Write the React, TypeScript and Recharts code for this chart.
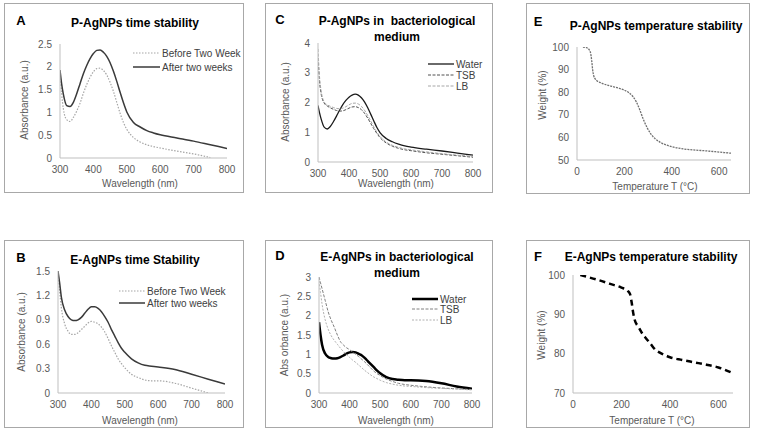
import React from 'react';
import { LineChart, Line, XAxis, YAxis } from 'recharts';

const FONT = '"Liberation Sans", Arial, sans-serif';

// wavelength grid shared by the absorbance panels (nm)
const wavelengths = [300, 305, 310, 320, 330, 340, 350, 360, 370, 380, 390, 400, 410, 420, 430, 440, 450, 460, 470, 480, 490, 500, 520, 540, 560, 580, 600, 650, 700, 750, 800];
const wlTicks = [300, 400, 500, 600, 700, 800];

// A - P-AgNPs time stability
const aBefore = [1.88, 1.4, 1.08, 0.84, 0.8, 0.89, 1.03, 1.2, 1.42, 1.61, 1.77, 1.89, 1.96, 1.97, 1.92, 1.82, 1.66, 1.46, 1.22, 0.98, 0.78, 0.63, 0.45, 0.35, 0.29, 0.25, 0.22, 0.15, 0.09, 0.01, null];
const aAfter = [1.93, 1.62, 1.4, 1.15, 1.13, 1.22, 1.41, 1.63, 1.85, 2.03, 2.18, 2.29, 2.36, 2.37, 2.32, 2.23, 2.09, 1.9, 1.68, 1.44, 1.21, 1.01, 0.78, 0.68, 0.6, 0.55, 0.51, 0.44, 0.37, 0.29, 0.21];
const aTicks = [0, 0.5, 1, 1.5, 2, 2.5];

// B - E-AgNPs time stability
const bBefore = [1.5, 1.25, 1.05, 0.85, 0.76, 0.72, 0.72, 0.74, 0.78, 0.82, 0.86, 0.88, 0.87, 0.85, 0.81, 0.75, 0.67, 0.58, 0.5, 0.42, 0.36, 0.31, 0.23, 0.19, 0.16, 0.15, 0.15, 0.12, 0.06, 0, null];
const bAfter = [1.5, 1.35, 1.18, 1.02, 0.94, 0.9, 0.89, 0.9, 0.93, 0.98, 1.03, 1.06, 1.06, 1.04, 1.0, 0.94, 0.87, 0.78, 0.7, 0.62, 0.55, 0.5, 0.42, 0.37, 0.34, 0.33, 0.32, 0.29, 0.23, 0.17, 0.11];
const bTicks = [0, 0.3, 0.6, 0.9, 1.2, 1.5];

// C - P-AgNPs in bacteriological medium
const cWater = [1.9, 1.65, 1.45, 1.17, 1.11, 1.2, 1.36, 1.55, 1.75, 1.93, 2.07, 2.18, 2.25, 2.28, 2.25, 2.16, 2.02, 1.83, 1.61, 1.38, 1.16, 0.99, 0.79, 0.68, 0.6, 0.54, 0.5, 0.43, 0.37, 0.3, 0.23];
const cTSB = [3.5, 2.7, 2.3, 1.98, 1.88, 1.82, 1.77, 1.73, 1.71, 1.72, 1.76, 1.81, 1.85, 1.86, 1.83, 1.76, 1.64, 1.48, 1.3, 1.12, 0.96, 0.82, 0.64, 0.53, 0.46, 0.41, 0.38, 0.31, 0.26, 0.21, 0.16];
const cLB = [3.8, 2.85, 2.4, 2.02, 1.92, 1.87, 1.83, 1.8, 1.79, 1.81, 1.86, 1.92, 1.97, 1.98, 1.95, 1.87, 1.74, 1.57, 1.38, 1.18, 1.0, 0.86, 0.67, 0.56, 0.49, 0.44, 0.41, 0.34, 0.28, 0.23, 0.19];
const cTicks = [0, 1, 2, 3, 4];

// D - E-AgNPs in bacteriological medium
const dWater = [1.83, 1.5, 1.25, 1.02, 0.93, 0.9, 0.89, 0.9, 0.93, 0.97, 1.02, 1.05, 1.06, 1.05, 1.01, 0.97, 0.9, 0.82, 0.74, 0.66, 0.58, 0.51, 0.41, 0.36, 0.34, 0.33, 0.33, 0.31, 0.25, 0.17, 0.11];
const dTSB = [3.0, 2.85, 2.7, 2.4, 2.1, 1.88, 1.7, 1.5, 1.33, 1.24, 1.17, 1.12, 1.06, 1.0, 0.94, 0.87, 0.8, 0.72, 0.64, 0.56, 0.5, 0.45, 0.36, 0.3, 0.25, 0.22, 0.2, 0.16, 0.13, 0.11, 0.09];
const dLB = [2.9, 2.6, 2.3, 1.9, 1.65, 1.48, 1.36, 1.26, 1.16, 1.07, 0.99, 0.92, 0.85, 0.79, 0.72, 0.65, 0.58, 0.52, 0.46, 0.41, 0.37, 0.33, 0.27, 0.23, 0.2, 0.18, 0.17, 0.14, 0.12, 0.1, 0.08];
const dTicks = [0, 0.5, 1, 1.5, 2, 2.5, 3];

// E - P-AgNPs temperature stability (TGA)
const eTemp = [25, 40, 50, 57, 62, 66, 70, 76, 85, 100, 125, 150, 175, 200, 220, 235, 250, 265, 280, 295, 310, 330, 350, 375, 400, 450, 500, 550, 600, 650];
const eWeight = [100, 99.7, 99, 97.5, 94, 90, 87.5, 86, 85, 84.2, 83.2, 82.5, 81.8, 80.9, 79.7, 78.2, 75.8, 72.2, 68, 64.5, 61.8, 59.4, 57.9, 56.7, 55.9, 54.9, 54.4, 54, 53.5, 53];
const eTicks = [50, 60, 70, 80, 90, 100];

// F - E-AgNPs temperature stability (TGA)
const fTemp = [30, 60, 100, 150, 200, 225, 235, 242, 248, 255, 270, 285, 300, 320, 340, 360, 380, 400, 450, 500, 550, 600, 650];
const fWeight = [100, 99.5, 98.8, 97.8, 96.8, 96, 95.2, 93, 90.5, 88.5, 86.8, 85.2, 84, 82.5, 81, 80.2, 79.6, 79.1, 78.4, 77.8, 77.2, 76.5, 75.3];
const fTicks = [70, 80, 90, 100];
const tempTicks = [0, 200, 400, 600];

const zip = (xs: number[], ys: (number | null)[]) => xs.map((x, i) => ({ x, y: ys[i] }));

type Series = { name: string; xs: number[]; ys: (number | null)[]; stroke: string; width: number; dash?: string };

function Legend({ x, ys, items, len }: { x: number; ys: number[]; items: Series[]; len: number }) {
  return (
    <>
      {items.map((s, i) => (
        <div key={s.name} style={{ position: 'absolute', left: x, top: ys[i] - 7, height: 14, display: 'flex', alignItems: 'center' }}>
          <svg width={len} height={6} style={{ marginRight: 2 }}>
            <line x1={0} y1={3} x2={len} y2={3} stroke={s.stroke} strokeWidth={s.width} strokeDasharray={s.dash} />
          </svg>
          <span style={{ fontFamily: FONT, fontSize: 10, color: '#404040', whiteSpace: 'nowrap' }}>{s.name}</span>
        </div>
      ))}
    </>
  );
}

function Panel(p: any) {
  const { box, plot } = p;
  const tick = { fontSize: 10, fill: '#595959', fontFamily: FONT };
  return (
    <div style={{ position: 'absolute', left: box.x, top: box.y, width: box.w, height: box.h, boxSizing: 'border-box', border: '1px solid #a8a8a8' }}>
      <div style={{ position: 'absolute', left: -1, top: -1 }}>
        <LineChart
          width={box.w}
          height={box.h}
          margin={{ top: plot.t - box.y, right: box.x + box.w - plot.r, left: 0, bottom: 0 }}
        >
          <XAxis type="number" dataKey="x" domain={p.xDomain} ticks={p.xTicks} interval={0} allowDataOverflow
            tickLine={false} axisLine={{ stroke: '#bfbfbf' }} height={box.y + box.h - plot.b} tick={tick} />
          <YAxis type="number" domain={p.yDomain} ticks={p.yTicks} interval={0} allowDataOverflow
            tickLine={false} axisLine={{ stroke: '#bfbfbf' }} width={plot.l - box.x} tick={tick} />
          {p.series.map((s: Series) => (
            <Line key={s.name} data={zip(s.xs, s.ys)} dataKey="y" name={s.name} type="monotone" dot={false}
              stroke={s.stroke} strokeWidth={s.width} strokeDasharray={s.dash} isAnimationActive={false} />
          ))}
        </LineChart>
      </div>
      <div style={{ position: 'absolute', left: p.letter.x - box.x - 11, top: p.letter.y - box.y - 9, width: 20, textAlign: 'center', fontFamily: FONT, fontWeight: 'bold', fontSize: 13, lineHeight: '16px' }}>{p.letter.text}</div>
      {p.title.map((t: any) => (
        <div key={t.text} style={{ position: 'absolute', left: t.cx - box.x - 151, top: t.cy - box.y - 9, width: 300, textAlign: 'center', fontFamily: FONT, fontWeight: 'bold', fontSize: 12, lineHeight: '16px', whiteSpace: 'pre' }}>{t.text}</div>
      ))}
      <div style={{ position: 'absolute', left: p.xTitle.cx - box.x - 101, top: p.xTitle.cy - box.y - 8, width: 200, textAlign: 'center', fontFamily: FONT, fontSize: 10, color: '#595959', lineHeight: '14px' }}>{p.xTitle.text}</div>
      <div style={{ position: 'absolute', left: p.yTitle.cx - box.x - 101, top: p.yTitle.cy - box.y - 8, width: 200, textAlign: 'center', fontFamily: FONT, fontSize: 10, color: '#595959', lineHeight: '14px', transform: 'rotate(-90deg)' }}>{p.yTitle.text}</div>
      {p.legend && <Legend x={p.legend.x - box.x - 1} ys={p.legend.ys.map((y: number) => y - box.y - 1)} items={p.series} len={p.legend.len} />}
    </div>
  );
}

const wl = 'Wavelength (nm)';
const abs = 'Absorbance (a.u.)';
const tempLabel = 'Temperature T (°C)';
const weight = 'Weight (%)';

export default function App() {
  const before = { stroke: '#a6a6a6', width: 1.2, dash: '1.5 1.5' };
  const after = { stroke: '#3a3a3a', width: 1.5 };
  return (
    <div style={{ position: 'fixed', left: 0, top: 0, width: 758, height: 436, background: '#fff', overflow: 'hidden' }}>
      <Panel
        box={{ x: 4, y: 3, w: 240, h: 190 }} plot={{ l: 60, r: 227, t: 44, b: 158 }}
        letter={{ text: 'A', x: 21, y: 21 }} title={[{ text: 'P-AgNPs time stability', cx: 135, cy: 23 }]}
        xTitle={{ text: wl, cx: 140, cy: 184 }} yTitle={{ text: abs, cx: 25, cy: 100 }}
        xDomain={[300, 800]} xTicks={wlTicks} yDomain={[0, 2.5]} yTicks={aTicks}
        series={[
          { name: 'Before Two Week', xs: wavelengths, ys: aBefore, ...before },
          { name: 'After two weeks', xs: wavelengths, ys: aAfter, ...after },
        ]}
        legend={{ x: 133, ys: [53, 67], len: 27 }}
      />
      <Panel
        box={{ x: 4, y: 240, w: 240, h: 188 }} plot={{ l: 58, r: 225, t: 271, b: 393 }}
        letter={{ text: 'B', x: 21, y: 258 }} title={[{ text: 'E-AgNPs time Stability', cx: 135, cy: 260 }]}
        xTitle={{ text: wl, cx: 140, cy: 421 }} yTitle={{ text: abs, cx: 22, cy: 332 }}
        xDomain={[300, 800]} xTicks={wlTicks} yDomain={[0, 1.5]} yTicks={bTicks}
        series={[
          { name: 'Before Two Week', xs: wavelengths, ys: bBefore, ...before },
          { name: 'After two weeks', xs: wavelengths, ys: bAfter, ...after },
        ]}
        legend={{ x: 119, ys: [291, 303], len: 26 }}
      />
      <Panel
        box={{ x: 265, y: 3, w: 228, h: 190 }} plot={{ l: 318, r: 473, t: 43, b: 162 }}
        letter={{ text: 'C', x: 280, y: 20 }}
        title={[{ text: 'P-AgNPs in  bacteriological', cx: 397, cy: 21 }, { text: 'medium', cx: 397, cy: 37 }]}
        xTitle={{ text: wl, cx: 396, cy: 184 }} yTitle={{ text: abs, cx: 286, cy: 102 }}
        xDomain={[300, 800]} xTicks={wlTicks} yDomain={[0, 4]} yTicks={cTicks}
        series={[
          { name: 'Water', xs: wavelengths, ys: cWater, stroke: '#1a1a1a', width: 1.3 },
          { name: 'TSB', xs: wavelengths, ys: cTSB, stroke: '#505050', width: 1, dash: '3 1.5' },
          { name: 'LB', xs: wavelengths, ys: cLB, stroke: '#a6a6a6', width: 1, dash: '3 1.5' },
        ]}
        legend={{ x: 428, ys: [64, 75, 86], len: 26 }}
      />
      <Panel
        box={{ x: 265, y: 240, w: 228, h: 188 }} plot={{ l: 319, r: 472, t: 277, b: 393 }}
        letter={{ text: 'D', x: 280, y: 256 }}
        title={[{ text: 'E-AgNPs in bacteriological', cx: 397, cy: 257 }, { text: 'medium', cx: 397, cy: 273 }]}
        xTitle={{ text: wl, cx: 396, cy: 421 }} yTitle={{ text: 'Abs orbance (a.u.)', cx: 285, cy: 335 }}
        xDomain={[300, 800]} xTicks={wlTicks} yDomain={[0, 3]} yTicks={dTicks}
        series={[
          { name: 'Water', xs: wavelengths, ys: dWater, stroke: '#000000', width: 2.5 },
          { name: 'TSB', xs: wavelengths, ys: dTSB, stroke: '#808080', width: 1, dash: '3 1.5' },
          { name: 'LB', xs: wavelengths, ys: dLB, stroke: '#b0b0b0', width: 1, dash: '2 1.5' },
        ]}
        legend={{ x: 412, ys: [299, 309, 320], len: 26 }}
      />
      <Panel
        box={{ x: 526, y: 3, w: 224, h: 191 }} plot={{ l: 577, r: 731, t: 47, b: 160 }}
        letter={{ text: 'E', x: 538, y: 22 }} title={[{ text: 'P-AgNPs temperature stability', cx: 656, cy: 26 }]}
        xTitle={{ text: tempLabel, cx: 655, cy: 187 }} yTitle={{ text: weight, cx: 543, cy: 95 }}
        xDomain={[0, 650]} xTicks={tempTicks} yDomain={[50, 100]} yTicks={eTicks}
        series={[{ name: 'P-AgNPs', xs: eTemp, ys: eWeight, stroke: '#707070', width: 1.3, dash: '2 1' }]}
      />
      <Panel
        box={{ x: 526, y: 240, w: 224, h: 188 }} plot={{ l: 573, r: 733, t: 275, b: 393 }}
        letter={{ text: 'F', x: 538, y: 257 }} title={[{ text: 'E-AgNPs temperature stability', cx: 651, cy: 257 }]}
        xTitle={{ text: tempLabel, cx: 652, cy: 421 }} yTitle={{ text: weight, cx: 542, cy: 335 }}
        xDomain={[0, 660]} xTicks={tempTicks} yDomain={[70, 100]} yTicks={fTicks}
        series={[{ name: 'E-AgNPs', xs: fTemp, ys: fWeight, stroke: '#000000', width: 2.5, dash: '6 4' }]}
      />
    </div>
  );
}
